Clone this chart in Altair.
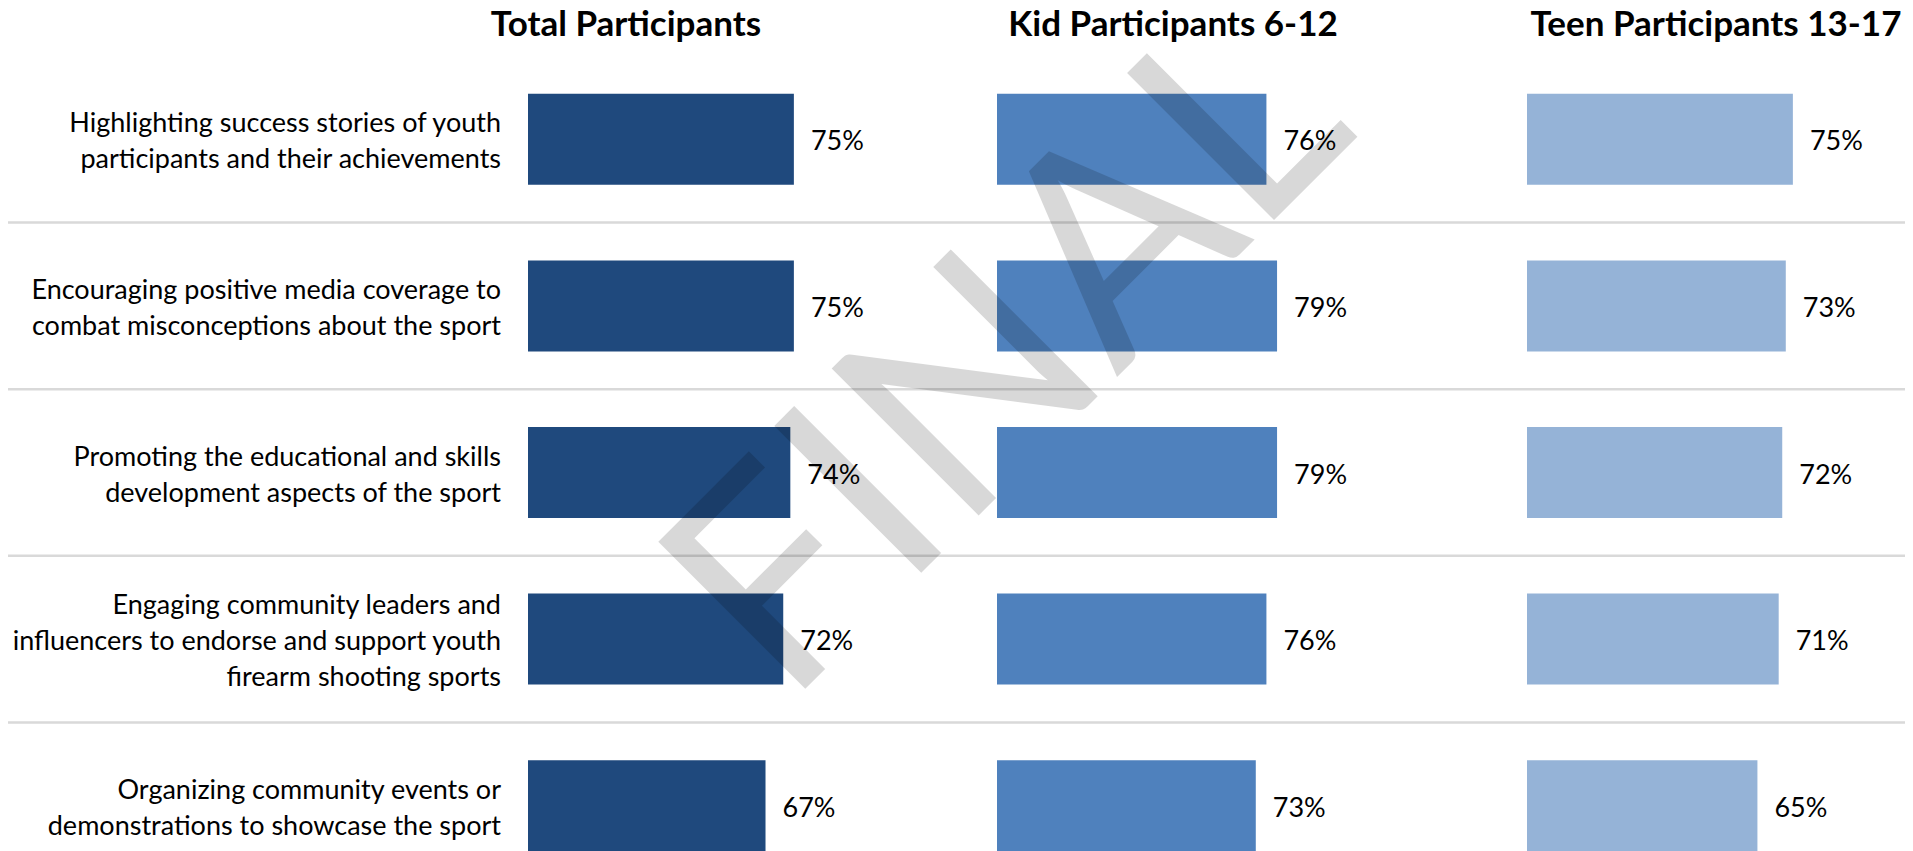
import altair as alt
import pandas as pd

categories = [
    "Highlighting success stories of youth\nparticipants and their achievements",
    "Encouraging positive media coverage to\ncombat misconceptions about the sport",
    "Promoting the educational and skills\ndevelopment aspects of the sport",
    "Engaging community leaders and\ninfluencers to endorse and support youth\nfirearm shooting sports",
    "Organizing community events or\ndemonstrations to showcase the sport",
]
total = [75, 75, 74, 72, 67]
kid = [76, 79, 79, 76, 73]
teen = [75, 73, 72, 71, 65]
headers = ["Total Participants", "Kid Participants 6-12", "Teen Participants 13-17"]
watermark = ["FINAL"]
colors = ["#1F497D", "#4F81BD", "#95B3D7"]

FONT = "Lato"
W = 1897          # plot width (page 8 -> 1905)
H = 833           # plot height (5 rows)
PX_PER_PCT = 3.545
ZERO_PX = [520, 989, 1519]        # where each group's 0% sits in the plot
HEADER_PX = [618, 1165, 1708]     # header centres
LINE_H = 36

yscale = alt.Scale(domain=categories, paddingInner=0, paddingOuter=0)
y_enc = alt.Y("cat:N", sort=categories, scale=yscale, axis=None)

layers = []

# separators between rows
sep_df = pd.DataFrame({"cat": categories[:-1]})
layers.append(
    alt.Chart(sep_df).mark_rule(color="#d9d9d9", strokeWidth=2.5).encode(
        y=alt.Y("cat:N", sort=categories, scale=yscale, axis=None, bandPosition=1)
    )
)

for values, color, zero in zip([total, kid, teen], colors, ZERO_PX):
    df = pd.DataFrame({"cat": categories, "value": values,
                       "label": [f"{v}%" for v in values]})
    xs = alt.Scale(domain=[-zero / PX_PER_PCT, (W - zero) / PX_PER_PCT], nice=False, zero=False)
    base = alt.Chart(df)
    layers.append(base.mark_bar(size=91, color=color).encode(
        x=alt.X("value:Q", scale=xs, axis=None), y=y_enc))
    layers.append(base.mark_text(align="left", baseline="middle", dx=17, dy=3, font=FONT,
                                 fontSize=27, color="black").encode(
        x=alt.X("value:Q", scale=xs, axis=None), y=y_enc, text="label:N"))

# category labels, one text per line, centred on the row
rows = []
for c in categories:
    parts = c.split("\n")
    n = len(parts)
    for i, p in enumerate(parts):
        rows.append({"cat": c, "line": p, "off": (i - (n - 1) / 2) * LINE_H + 3})
lines_df = pd.DataFrame(rows)
for off in sorted(lines_df["off"].unique()):
    layers.append(
        alt.Chart(lines_df[lines_df["off"] == off]).mark_text(
            align="right", baseline="middle", font=FONT, fontSize=27,
            dy=float(off), color="black").encode(
            x=alt.value(493), y=y_enc, text="line:N")
    )

# column headers
for head, hx in zip(headers, HEADER_PX):
    layers.append(
        alt.Chart(pd.DataFrame({"h": [head]})).mark_text(
            align="center", baseline="alphabetic", font=FONT, fontSize=35,
            fontWeight="bold", color="black").encode(
            x=alt.value(hx), y=alt.value(-20), text="h:N")
    )

# watermark
layers.append(
    alt.Chart(pd.DataFrame({"w": watermark})).mark_text(
        angle=315, fontSize=290, font=FONT, color="black", opacity=0.15,
        align="center", baseline="middle").encode(
        x=alt.value(1004), y=alt.value(303), text="w:N")
)

chart = alt.layer(*layers).resolve_scale(x="independent").properties(
    width=W, height=H,
    autosize=alt.AutoSizeParams(type="none"),
    padding={"top": 48, "left": 0, "right": 0, "bottom": 0},
).configure_view(strokeWidth=0)

chart.save("out.html", embed_options={"renderer": "svg", "actions": False})
